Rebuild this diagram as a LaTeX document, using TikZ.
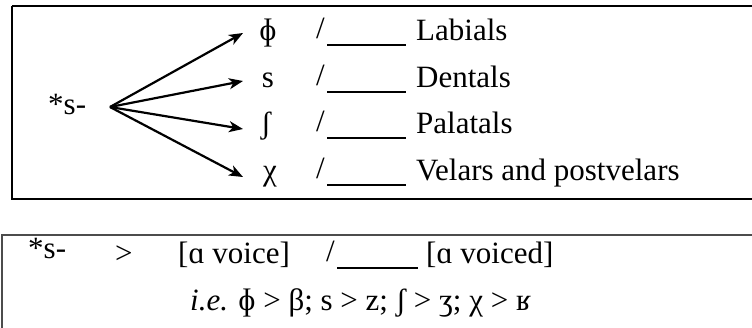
\documentclass[tikz,border=0pt]{standalone}
\usepackage{fontspec}
\setmainfont{Liberation Serif}
\usetikzlibrary{arrows.meta}
\begin{document}
\begin{tikzpicture}[x=1pt,y=-1pt,
  txt/.style={anchor=base west,inner sep=0pt,font=\fontsize{31}{36}\selectfont},
  sym/.style={anchor=base,inner sep=0pt,font=\fontsize{31}{36}\selectfont},
  arr/.style={line width=2.2pt,-{Stealth[length=14pt,width=11pt,inset=4pt]}},
  blank/.style={line width=2.6pt}]
\useasboundingbox (0,0) rectangle (752,327);
\begin{scope}
\clip (0,0) rectangle (752,327);
% top box
\draw[line width=2pt] (12,6) -- (780,6);
\draw[line width=2pt] (12,6) -- (12,199) -- (780,199);
% bottom box
\draw[line width=2.2pt,draw=black!70] (800,235) -- (2,235) -- (2,340);
\end{scope}
% source
\node[txt] (src) at (48,114) {*s-};
\coordinate (o) at (110,107);
% symbols
\node[sym] (p1) at (268,40) {ɸ};
\node[sym] (p2) at (268,87) {s};
\node[sym] (p3) at (266,133) {ʃ};
\node[sym] (p4) at (270,180) {χ};
\coordinate (t1) at (243,33);
\coordinate (t2) at (243,81);
\coordinate (t3) at (243,129);
\coordinate (t4) at (243,177);
\draw[arr] (o) -- (t1);
\draw[arr] (o) -- (t2);
\draw[arr] (o) -- (t3);
\draw[arr] (o) -- (t4);
% slashes, blanks and labels
\foreach \y/\lab [count=\i] in {40/Labials,87/Dentals,133/Palatals,180/Velars and postvelars}{
  \node[txt] (sl\i) at (316,\y-2) {/};
  \draw[blank] (327,\y+5) -- (406,\y+5);
  \node[txt] (lab\i) at (416,\y) {\lab};
}
% bottom box text
\node[txt] (bs) at (28,258) {*s-};
\node[txt] (gt) at (115,263) {>};
\node[txt] (av) at (178,263) {[ɑ voice]};
\node[txt] (bsl) at (326,261) {/};
\draw[blank] (337,268) -- (418,268);
\node[txt] (avd) at (426,263) {[ɑ voiced]};
\node[txt] (ie) at (190,310) {\textit{i.e.} ɸ > β; s > z; ʃ > ʒ; χ > ʁ};
\end{tikzpicture}
\end{document}
